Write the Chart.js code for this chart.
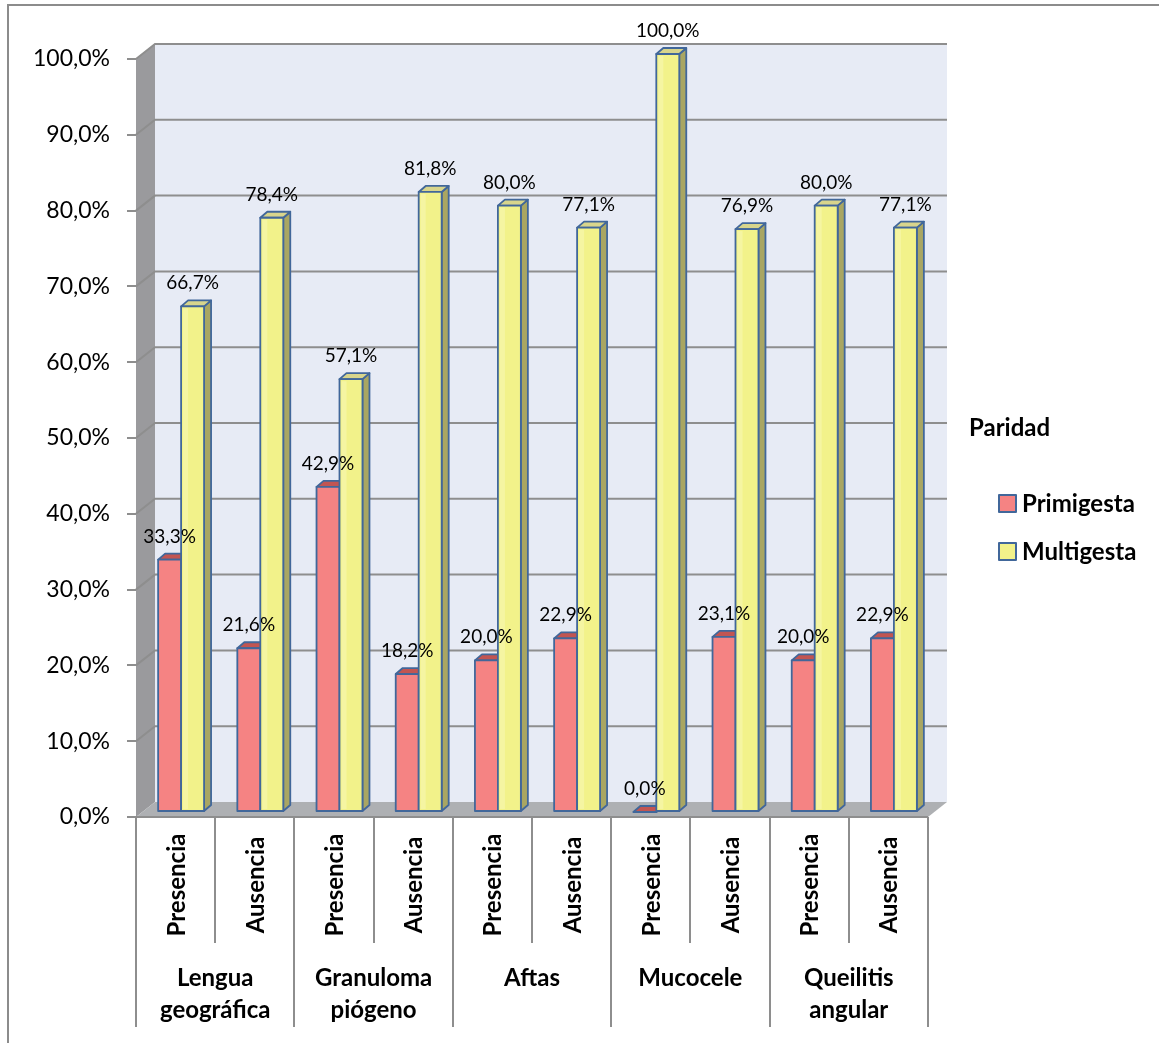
<!DOCTYPE html>
<html>
<head>
<meta charset="utf-8">
<script src="https://cdn.jsdelivr.net/npm/chart.js@4.4.0/dist/chart.umd.min.js"></script>
<style>
  html, body { margin: 0; padding: 0; background: #fff; }
  #wrap { width: 1159px; height: 1043px; position: relative; }
</style>
</head>
<body>
<div id="wrap"><canvas id="chart" width="1159" height="1043"></canvas></div>
<script>
// datos del gráfico
const subLabels = ['Presencia', 'Ausencia', 'Presencia', 'Ausencia', 'Presencia', 'Ausencia', 'Presencia', 'Ausencia', 'Presencia', 'Ausencia'];
const groupLabels = [['Lengua', 'geográfica'], ['Granuloma', 'piógeno'], ['Aftas'], ['Mucocele'], ['Queilitis', 'angular']];
const primigesta = [33.3, 21.6, 42.9, 18.2, 20.0, 22.9, 0.0, 23.1, 20.0, 22.9];
const multigesta = [66.7, 78.4, 57.1, 81.8, 80.0, 77.1, 100.0, 76.9, 80.0, 77.1];
const yTicks = [0, 10, 20, 30, 40, 50, 60, 70, 80, 90, 100];
const legendTitle = 'Paridad';

const fmt = v => v.toFixed(1).replace('.', ',') + '%';

// perspectiva
const WALL_DX = 19, WALL_DY = -15;
const BAR_DX = 5.5, BAR_DY = -5;
const DEPTH_DX = 7, DEPTH_DY = -6;

const colors = {
    wall: '#E7EBF5',
    side: '#9A9A9D',
    floor: '#AEB0B3',
    grid: '#8E8E8E',
    stroke: '#41679A',
    red: { front: '#F58383', top: '#C25552', side: '#B04A48' },
    yellow: { front: '#F2F28A', top: '#D8D58C', side: '#A9A662', light: '#F5F5A2' }
};

const wallsPlugin = {
    id: 'walls',
    beforeDraw(chart) {
        const ctx = chart.ctx;
        const a = chart.chartArea;
        const y = chart.scales.y;
        ctx.save();
        // borde exterior
        ctx.strokeStyle = '#8C8C8C';
        ctx.lineWidth = 2;
        ctx.beginPath();
        ctx.moveTo(8, 1043);
        ctx.lineTo(8, 5);
        ctx.lineTo(1159, 5);
        ctx.stroke();

        const top = y.getPixelForValue(100), bot = y.getPixelForValue(0);
        // pared lateral
        ctx.fillStyle = colors.side;
        ctx.beginPath();
        ctx.moveTo(a.left, top);
        ctx.lineTo(a.left + WALL_DX, top + WALL_DY);
        ctx.lineTo(a.left + WALL_DX, bot + WALL_DY);
        ctx.lineTo(a.left, bot);
        ctx.closePath();
        ctx.fill();
        // pared del fondo
        ctx.fillStyle = colors.wall;
        ctx.fillRect(a.left + WALL_DX, top + WALL_DY, a.right - a.left, bot - top);
        // líneas de división
        ctx.strokeStyle = colors.grid;
        ctx.lineWidth = 2;
        yTicks.forEach(t => {
            if (t === 0) return;
            const py = y.getPixelForValue(t);
            ctx.beginPath();
            ctx.moveTo(a.left, py);
            ctx.lineTo(a.left + WALL_DX, py + WALL_DY);
            ctx.lineTo(a.right + WALL_DX, py + WALL_DY);
            ctx.stroke();
        });
        // suelo
        ctx.fillStyle = colors.floor;
        ctx.beginPath();
        ctx.moveTo(a.left, bot);
        ctx.lineTo(a.right, bot);
        ctx.lineTo(a.right + WALL_DX, bot + WALL_DY);
        ctx.lineTo(a.left + WALL_DX, bot + WALL_DY);
        ctx.closePath();
        ctx.fill();
        ctx.restore();
    }
};

function drawBox(ctx, l, r, t, b, c) {
    ctx.lineJoin = 'round';
    ctx.strokeStyle = colors.stroke;
    ctx.lineWidth = 1.8;
    // lado
    ctx.fillStyle = c.side;
    ctx.beginPath();
    ctx.moveTo(r, t);
    ctx.lineTo(r + DEPTH_DX, t + DEPTH_DY);
    ctx.lineTo(r + DEPTH_DX, b + DEPTH_DY);
    ctx.lineTo(r, b);
    ctx.closePath();
    ctx.fill();
    ctx.stroke();
    // tapa
    ctx.fillStyle = c.top;
    ctx.beginPath();
    ctx.moveTo(l, t);
    ctx.lineTo(l + DEPTH_DX, t + DEPTH_DY);
    ctx.lineTo(r + DEPTH_DX, t + DEPTH_DY);
    ctx.lineTo(r, t);
    ctx.closePath();
    ctx.fill();
    ctx.stroke();
    // frente
    if (b - t > 0.5) {
        ctx.fillStyle = c.front;
        ctx.fillRect(l, t, r - l, b - t);
        if (c.light) {
            ctx.fillStyle = c.light;
            ctx.fillRect(l + 2, t + 2, 5, b - t - 4);
        }
        ctx.strokeRect(l, t, r - l, b - t);
    }
}

const barsPlugin = {
    id: 'bars3d',
    afterDatasetsDraw(chart) {
        const ctx = chart.ctx;
        const a = chart.chartArea;
        const xs = chart.scales.x;
        const palettes = [colors.red, colors.yellow];
        const labelPos = [];
        ctx.save();
        for (let i = 0; i < subLabels.length; i++) {
            for (let d = 0; d < 2; d++) {
                const el = chart.getDatasetMeta(d).data[i];
                const p = el.getProps(['x', 'y', 'base', 'width'], true);
                const l = p.x - p.width / 2 + BAR_DX;
                const r = l + p.width;
                const t = p.y + BAR_DY;
                const b = p.base + BAR_DY;
                drawBox(ctx, l, r, t, b, palettes[d]);
                labelPos.push([(l + r) / 2, t - 17, chart.data.datasets[d].data[i]]);
            }
        }
        // etiquetas de datos
        ctx.fillStyle = '#000';
        ctx.font = '19px Lato';
        ctx.textAlign = 'center';
        ctx.textBaseline = 'alphabetic';
        labelPos.forEach(([x, y, v]) => ctx.fillText(fmt(v), x, y));

        // eje de categorías
        const bot = a.bottom;
        const step = (a.right - a.left) / subLabels.length;
        ctx.strokeStyle = '#8E8E8E';
        ctx.lineWidth = 2;
        ctx.beginPath();
        ctx.moveTo(a.left - 9, bot);
        ctx.lineTo(a.right, bot);
        ctx.stroke();
        for (let k = 0; k <= subLabels.length; k++) {
            const x = Math.round(a.left + k * step);
            ctx.beginPath();
            ctx.moveTo(x, bot);
            ctx.lineTo(x, k % 2 === 0 ? 1027 : 943);
            ctx.stroke();
        }
        ctx.font = 'bold 24px Lato';
        subLabels.forEach((lab, i) => {
            const x = xs.getPixelForValue(i);
            ctx.save();
            ctx.translate(x + 9, 885);
            ctx.rotate(-Math.PI / 2);
            ctx.textAlign = 'center';
            ctx.fillText(lab, 0, 0);
            ctx.restore();
        });
        groupLabels.forEach((lines, g) => {
            const x = (xs.getPixelForValue(2 * g) + xs.getPixelForValue(2 * g + 1)) / 2;
            lines.forEach((ln, j) => ctx.fillText(ln, x, 986 + j * 32));
        });

        // leyenda
        ctx.textAlign = 'left';
        ctx.fillText(legendTitle, 969, 436);
        chart.data.datasets.forEach((ds, d) => {
            const by = 512 + d * 48;
            ctx.fillStyle = palettes[d].front;
            ctx.fillRect(999, by - 17, 17, 17);
            ctx.strokeStyle = colors.stroke;
            ctx.lineWidth = 2;
            ctx.strokeRect(999, by - 17, 17, 17);
            ctx.fillStyle = '#000';
            ctx.fillText(ds.label, 1022, by);
        });
        ctx.restore();
    }
};

new Chart(document.getElementById('chart'), {
    type: 'bar',
    data: {
        labels: subLabels,
        datasets: [
            { label: 'Primigesta', data: primigesta, backgroundColor: 'rgba(0,0,0,0)', borderWidth: 0 },
            { label: 'Multigesta', data: multigesta, backgroundColor: 'rgba(0,0,0,0)', borderWidth: 0 }
        ]
    },
    options: {
        responsive: false,
        animation: false,
        devicePixelRatio: 1,
        layout: { padding: { left: 0, top: 59, right: 231, bottom: 226 } },
        categoryPercentage: 0.58,
        barPercentage: 1.0,
        plugins: { legend: { display: false }, tooltip: { enabled: false } },
        scales: {
            x: { display: false },
            y: {
                min: 0,
                max: 100,
                afterFit(axis) { axis.width = 136; },
                afterBuildTicks(axis) { axis.ticks = yTicks.map(v => ({ value: v })); },
                ticks: {
                    callback: v => fmt(v),
                    color: '#000',
                    padding: 17,
                    font: { family: 'Lato', size: 23 }
                },
                grid: { drawOnChartArea: false, drawTicks: true, tickLength: 9, color: '#8E8E8E', lineWidth: 2 },
                border: { display: false }
            }
        }
    },
    plugins: [wallsPlugin, barsPlugin]
});
</script>
</body>
</html>
